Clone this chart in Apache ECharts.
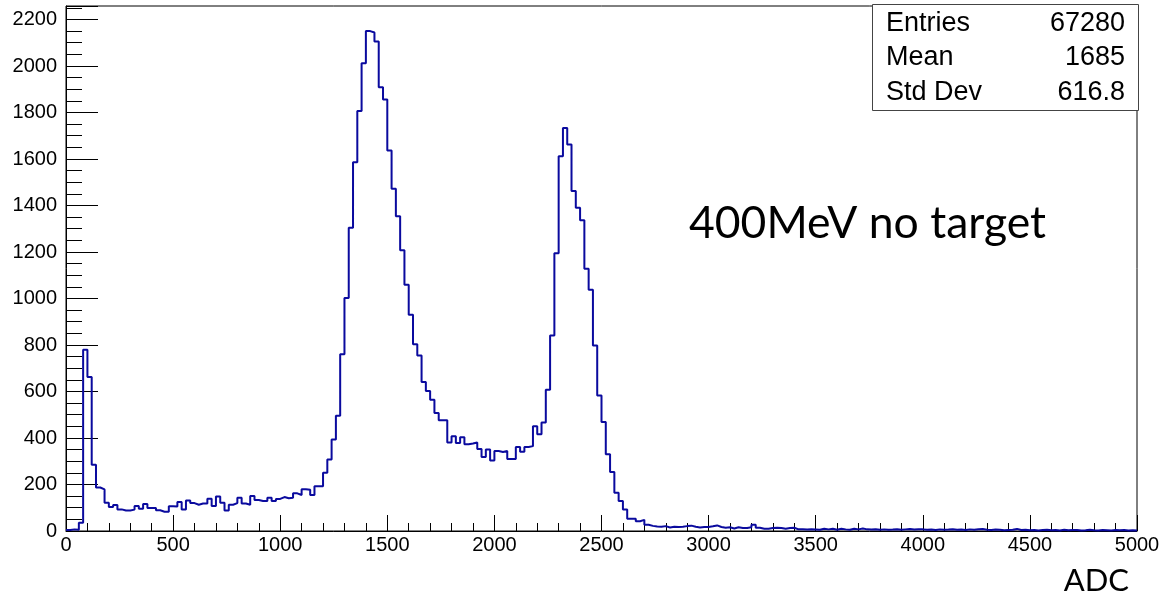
<!DOCTYPE html>
<html><head><meta charset="utf-8">
<script src="https://cdn.jsdelivr.net/npm/echarts@6/dist/echarts.min.js"></script>
<style>html,body{margin:0;padding:0;background:#fff}#c{width:1163px;height:597px}</style>
</head><body><div id="c"></div>
<script>
// Histogram: 250 bins of width 20 ADC from 0 to 5000
const binWidth = 20;
const xMin = 0;
const xMax = 5000;
const yMax = 2258;
const counts = [
  4, 7, 5, 36, 780, 662, 285, 187, 179, 122,
  103, 112, 93, 88, 88, 92, 108, 96, 116, 99,
  99, 89, 83, 83, 106, 105, 125, 93, 131, 120,
  113, 118, 118, 139, 107, 148, 122, 88, 113, 120,
  143, 118, 113, 151, 133, 129, 129, 143, 129, 138,
  146, 141, 143, 162, 155, 180, 177, 155, 193, 193,
  251, 308, 393, 496, 760, 1002, 1304, 1586, 1806, 2012,
  2150, 2144, 2105, 1909, 1856, 1637, 1472, 1354, 1207, 1059,
  930, 803, 755, 641, 602, 565, 507, 476, 476, 381,
  407, 378, 403, 373, 376, 381, 353, 318, 350, 303,
  344, 340, 344, 310, 310, 361, 341, 361, 365, 450,
  416, 467, 608, 841, 1195, 1612, 1733, 1662, 1462, 1390,
  1336, 1128, 1038, 798, 583, 469, 330, 254, 165, 129,
  93, 53, 53, 42, 48, 27, 22, 19, 18, 21,
  15, 18, 17, 18, 21, 23, 18, 15, 17, 17,
  20, 24, 17, 14, 16, 11, 16, 13, 13, 16,
  27, 14, 10, 10, 13, 14, 13, 10, 13, 14,
  7, 7, 6, 7, 6, 5, 10, 7, 10, 5,
  10, 7, 5, 10, 7, 11, 7, 6, 8, 5,
  7, 5, 6, 8, 5, 7, 9, 6, 8, 7,
  5, 6, 4, 7, 5, 6, 8, 5, 6, 4,
  7, 5, 8, 9, 5, 4, 6, 5, 3, 4,
  5, 9, 4, 5, 3, 4, 2, 4, 5, 3,
  4, 2, 5, 3, 4, 4, 2, 3, 5, 3,
  2, 4, 3, 2, 4, 3, 4, 2, 3, 2
];
const statNames = ['Entries', 'Mean', 'Std Dev'];
const statValues = ['67280', '1685', '616.8'];
const annotation = '400MeV no target';
const xTitle = 'ADC';

const binEdges = counts.map((_, i) => xMin + i * binWidth);
const points = counts.map((v, i) => [binEdges[i], v]);
points.push([xMax, counts[counts.length - 1]]);

const chart = echarts.init(document.getElementById('c'), null, {renderer: 'canvas'});
const labelFont = {fontFamily: 'Liberation Sans', fontSize: 20, color: '#000', formatter: v => String(v)};
const statRowY = [23.5, 58, 92.5];

const graphics = [
  {type: 'rect', shape: {x: 872.5, y: 4.5, width: 266, height: 106}, style: {fill: '#fff', stroke: '#444', lineWidth: 1}, z: 100}
];
statNames.forEach((n, i) => {
  graphics.push({type: 'text', z: 101, style: {text: n, x: 886, y: statRowY[i], align: 'left', verticalAlign: 'middle', font: '27px "Liberation Sans"', fill: '#000'}});
  graphics.push({type: 'text', z: 101, style: {text: statValues[i], x: 1125, y: statRowY[i], align: 'right', verticalAlign: 'middle', font: '27px "Liberation Sans"', fill: '#000'}});
});
graphics.push({type: 'text', z: 101, style: {text: annotation, x: 689, y: 224, align: 'left', verticalAlign: 'middle', font: '44.5px Lato', fill: '#000'}});
graphics.push({type: 'text', z: 101, style: {text: xTitle, x: 1129, y: 581, align: 'right', verticalAlign: 'middle', font: '31px Lato', fill: '#000'}});

chart.setOption({
  animation: false,
  backgroundColor: '#fff',
  grid: {left: 66, right: 26, top: 6, bottom: 66, show: true, borderColor: '#000', borderWidth: 1, backgroundColor: 'transparent'},
  xAxis: {
    type: 'value', min: xMin, max: xMax, interval: 500,
    axisLine: {show: true, lineStyle: {color: '#000', width: 1}},
    axisTick: {show: true, inside: true, length: 16, lineStyle: {color: '#000', width: 1}},
    minorTick: {show: true, splitNumber: 5, length: 8, lineStyle: {color: '#000', width: 1}},
    splitLine: {show: false},
    axisLabel: Object.assign({margin: 4}, labelFont)
  },
  yAxis: {
    type: 'value', min: 0, max: yMax, interval: 200,
    axisLine: {show: true, lineStyle: {color: '#000', width: 1}},
    axisTick: {show: true, inside: true, length: 32, lineStyle: {color: '#000', width: 1}},
    minorTick: {show: true, splitNumber: 4, length: 16, lineStyle: {color: '#000', width: 1}},
    splitLine: {show: false},
    axisLabel: Object.assign({margin: 9, showMaxLabel: false}, labelFont)
  },
  series: [{
    type: 'line', step: 'end', symbol: 'none', data: points,
    lineStyle: {color: '#0a0a9e', width: 2}, clip: true
  }],
  graphic: graphics
});
</script></body></html>
